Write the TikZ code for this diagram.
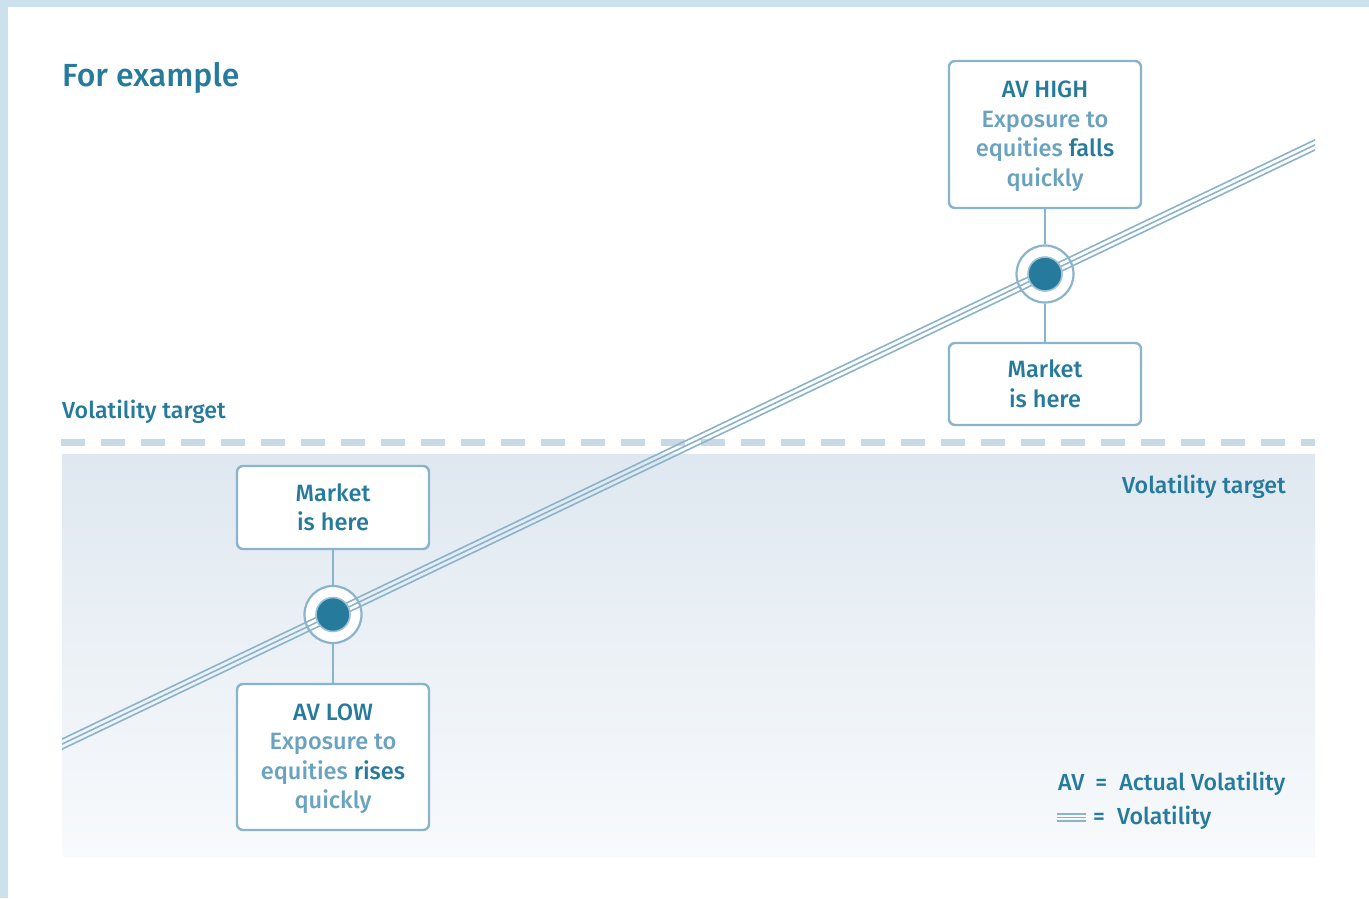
\documentclass[tikz,border=0pt]{standalone}
\usepackage{fontspec}
\setmainfont{Fira Sans}[UprightFont={* Medium}]
\usetikzlibrary{calc}
\definecolor{dk}{HTML}{267B9D}
\definecolor{lt}{HTML}{6AA3C0}
\definecolor{ln}{HTML}{8AB3CC}
\definecolor{ring}{HTML}{9CC0D6}
\definecolor{brd}{HTML}{CBE1EE}
\definecolor{dsh}{HTML}{C8D9E6}
\definecolor{shtop}{HTML}{DFE8F0}
\definecolor{shbot}{HTML}{F8FAFC}
\newcommand{\upstrut}{\rule{0pt}{20.5pt}}
\begin{document}
\begin{tikzpicture}[x=1pt,y=-1pt,
  box/.style={draw=ln, line width=2.4pt, rounded corners=6pt, fill=white,
    minimum width=192pt, align=center, text=dk, inner sep=0pt,
    font=\fontsize{23.6}{29.5}\selectfont},
  lbl/.style={text=dk, inner sep=0pt, font=\fontsize{23.2}{26}\selectfont},
  conn/.style={draw=ln, line width=2.4pt},
  vol/.style={draw=ln, line width=1.6pt},
  outer/.style={circle, draw=ln, line width=2.2pt, fill=white, minimum size=57pt, inner sep=0pt},
  dot/.style={circle, fill=dk, draw=ring, line width=1.6pt, minimum size=34pt, inner sep=0pt}]
\useasboundingbox (0,0) rectangle (1369,898);
\fill[white] (0,0) rectangle (1369,898);
\fill[brd] (0,0) rectangle (1369,7);
\fill[brd] (0,0) rectangle (8,898);
% shaded band
\shade[top color=shtop, bottom color=shbot] (62,454) rectangle (1315,856);
% dashed target line
\draw[dsh, line width=7pt, dash pattern=on 24pt off 16pt] (61,442.5) -- (1315,442.5);
% texts
\node[anchor=base west, text=dk, inner sep=0pt, font=\fontsize{32}{36}\selectfont] (title) at (62,86) {For example};
\node[lbl, anchor=base west] (vtl) at (62,418) {Volatility target};
\node[lbl, anchor=base east] (vtr) at (1286,493) {Volatility target};
% circles
\node[outer] (ch) at (1045,274) {};
\node[outer] (cl) at (333,614.5) {};
% boxes
\node[box, minimum height=147pt] (high) at (1045,134.5) {\upstrut AV HIGH\\{\color{lt}Exposure to}\\{\color{lt}equities} falls\\{\color{lt}quickly}};
\node[box, minimum height=82pt] (mh) at (1045,384) {Market\\is here};
\node[box, minimum height=83pt] (ml) at (333,507.5) {Market\\is here};
\node[box, minimum height=146pt] (low) at (333,757) {\upstrut AV LOW\\{\color{lt}Exposure to}\\{\color{lt}equities} rises\\{\color{lt}quickly}};
% connectors
\draw[conn] (high.south) -- (ch.north);
\draw[conn] (ch.south) -- (mh.north);
\draw[conn] (ml.south) -- (cl.north);
\draw[conn] (cl.south) -- (low.north);
% volatility triple line
\coordinate (A) at ($(cl.center)!-0.5!(ch.center)$);
\coordinate (B) at ($(cl.center)!1.5!(ch.center)$);
\begin{scope}
\clip (62,0) rectangle (1315,898);
\draw[vol] (A) -- (B);
\draw[vol] ($(A)+(1.95,4.1)$) -- ($(B)+(1.95,4.1)$);
\draw[vol] ($(A)-(1.95,4.1)$) -- ($(B)-(1.95,4.1)$);
\end{scope}
% dots
\node[dot] (dh) at (ch) {};
\node[dot] (dl) at (cl) {};
% legend
\node[lbl, anchor=base west] (leg1) at (1058,790) {AV\hspace{11pt}=\hspace{12pt}Actual Volatility};
\coordinate (m1) at (1057,817.5);
\coordinate (m2) at (1086,817.5);
\draw[vol, line width=1.4pt] (m1) -- (m2);
\draw[vol, line width=1.4pt] ($(m1)+(0,-3.6)$) -- ($(m2)+(0,-3.6)$);
\draw[vol, line width=1.4pt] ($(m1)+(0,3.6)$) -- ($(m2)+(0,3.6)$);
\node[lbl, anchor=base west] (leg2) at (1093,824) {=\hspace{12pt}Volatility};
\end{tikzpicture}
\end{document}
